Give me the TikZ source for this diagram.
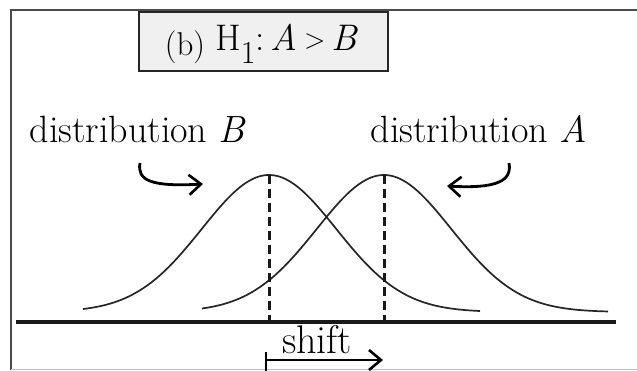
\documentclass[tikz,border=0pt]{standalone}
\usetikzlibrary{arrows.meta}
\begin{document}
\begin{tikzpicture}[x=1pt,y=-1pt,
  frameline/.style={line width=2pt,draw=black!70},
  curve/.style={line width=1.7pt,black!85},
  meanline/.style={line width=3pt,dash pattern=on 9pt off 5pt,black!90},
  tip/.style={-{Straight Barb[length=12pt,width=20pt,line width=2.6pt]}},
  pointer/.style={line width=2.8pt,tip},
  lbl/.style={font=\fontsize{38}{44}\selectfont,inner sep=0pt}]
\useasboundingbox (0,0) rectangle (637,370);
% frame
\draw[frameline] (11,370) -- (11,10) -- (637,10);
\draw[line width=1pt,black!25] (11,369) -- (637,369);
% title box
\node[draw=black!85,fill=black!6,line width=1.6pt,minimum width=249pt,minimum height=59pt,inner sep=0pt] (title) at (263.5,41.5) {};
\node[inner sep=0pt,font=\fontsize{33}{36}\selectfont,anchor=base] (tb) at (185,55) {(b)};
\node[inner sep=0pt,font=\fontsize{37}{40}\selectfont,anchor=base west] (th) at (215,50) {H\raisebox{-13pt}{\fontsize{32}{34}\selectfont 1}:\,\textit{A}\,{\fontsize{28}{30}\selectfont\raisebox{2pt}{>}}\,\textit{B}};
% baseline
\coordinate (axl) at (16,322);
\coordinate (axr) at (616,322);
\draw[line width=3.4pt,black!90] (axl) -- (axr);
% curves
\draw[curve] plot[domain=83:480,samples=120,smooth] (\x,{312-137*exp(-((\x-269)/95.05)^2)});
\draw[curve] plot[domain=202:608,samples=120,smooth] (\x,{312-137*exp(-((\x-384)/95.05)^2)});
% means
\coordinate (pB) at (269,175);
\coordinate (bB) at (269,322);
\coordinate (pA) at (384,175);
\coordinate (bA) at (384,322);
\draw[meanline] (pB) -- (bB);
\draw[meanline] (pA) -- (bA);
% labels
\node[lbl,anchor=base] (lB) at (138,142) {distribution \textit{B}};
\node[lbl,anchor=base] (lA) at (479,142) {distribution \textit{A}};
\coordinate (sB) at (140,163);
\coordinate (eB) at (203,184);
\coordinate (sA) at (509,163);
\coordinate (eA) at (447,186);
\draw[pointer] (sB) .. controls (137,180) and (150,187) .. (eB);
\draw[pointer] (sA) .. controls (512,180) and (499,189) .. (eA);
% shift
\node[lbl,anchor=base,font=\fontsize{40}{44}\selectfont] (sh) at (317,353) {shift};
\coordinate (s0) at (266,360);
\coordinate (s1) at (383,360);
\draw[line width=2.6pt] (266,352) -- (266,372);
\draw[line width=2.6pt,tip] (s0) -- (s1);
\end{tikzpicture}
\end{document}
